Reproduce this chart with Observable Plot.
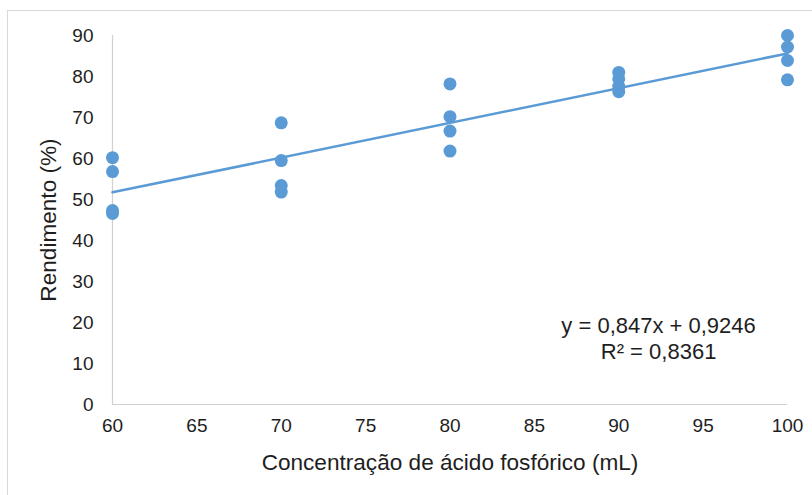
<!DOCTYPE html>
<html>
<head>
<meta charset="utf-8">
<script src="https://cdn.jsdelivr.net/npm/d3@7"></script>
<script src="https://cdn.jsdelivr.net/npm/@observablehq/plot@0.6"></script>
<style>
  html, body { margin: 0; padding: 0; background: #fff; overflow: hidden; }
  #wrap { position: relative; width: 812px; height: 495px; }
  #border { position: absolute; left: 7px; top: 10px; width: 900px; height: 600px; border: 1px solid #d9d9d9; box-sizing: border-box; }
  #chart { position: absolute; left: 0; top: 0; }
</style>
</head>
<body>
<div id="wrap"><div id="border"></div><div id="chart"></div></div>
<script>
// Concentração de ácido fosfórico (mL) for each observation
const conc = [60, 60, 60, 60, 70, 70, 70, 70, 80, 80, 80, 80, 90, 90, 90, 90, 100, 100, 100, 100];
// Rendimento (%) for each observation
const rend = [60.2, 56.8, 47.3, 46.6, 68.7, 59.5, 53.4, 51.8, 78.2, 70.2, 66.7, 61.8, 81.0, 79.4, 77.6, 76.3, 90.0, 87.2, 83.9, 79.2];
// trendline from the displayed equation
const slope = 0.847;
const intercept = 0.9246;
const trendX = [60, 100];
const xTicks = [60, 65, 70, 75, 80, 85, 90, 95, 100];
const yTicks = [0, 10, 20, 30, 40, 50, 60, 70, 80, 90];
const xTitle = "Concentração de ácido fosfórico (mL)";
const yTitle = "Rendimento (%)";
const eqLines = ["y = 0,847x + 0,9246", "R² = 0,8361"];
const eqPos = [92.36, 16.4];

const points = conc.map((c, i) => ({x: c, y: rend[i]}));
const trend = trendX.map(x => ({x, y: slope * x + intercept}));

const color = "#5b9bd5";
const ink = "#1e1e1e";
const font = "'Liberation Sans', Arial, sans-serif";

const chart = Plot.plot({
  width: 812,
  height: 495,
  marginLeft: 112,
  marginRight: 25,
  marginTop: 35,
  marginBottom: 91,
  style: {fontFamily: font, fontSize: "19px", color: ink, background: "transparent"},
  x: {domain: [60, 100]},
  y: {domain: [0, 90]},
  marks: [
    Plot.ruleX([60], {y1: 0, y2: 90, stroke: "#d0d0d0", strokeWidth: 1.2}),
    Plot.ruleY([0], {x1: 60, x2: 100, stroke: "#d0d0d0", strokeWidth: 1.2}),
    Plot.axisX({ticks: xTicks, tickSize: 0, tickPadding: 14, tickFormat: d => String(d),
      label: null, fontSize: 19, fill: ink}),
    Plot.axisY({ticks: yTicks, tickSize: 0, tickPadding: 19, tickFormat: d => String(d),
      label: null, fontSize: 19, fill: ink}),
    Plot.text([xTitle], {frameAnchor: "bottom", dy: 58, textAnchor: "middle", lineAnchor: "middle", fontSize: 22.6, fill: ink}),
    Plot.text([yTitle], {frameAnchor: "left", dx: -64, rotate: -90, textAnchor: "middle", lineAnchor: "middle", fontSize: 22.6, fill: ink}),
    Plot.line(trend, {x: "x", y: "y", stroke: color, strokeWidth: 2.6}),
    Plot.dot(points, {x: "x", y: "y", r: 6.5, fill: color, stroke: "none"}),
    Plot.text([eqLines.join("\n")], {x: () => eqPos[0], y: () => eqPos[1], text: d => d,
      lineHeight: 1.18, fontSize: 22, fill: ink, textAnchor: "middle"})
  ]
});
document.getElementById("chart").appendChild(chart);
</script>
</body>
</html>
